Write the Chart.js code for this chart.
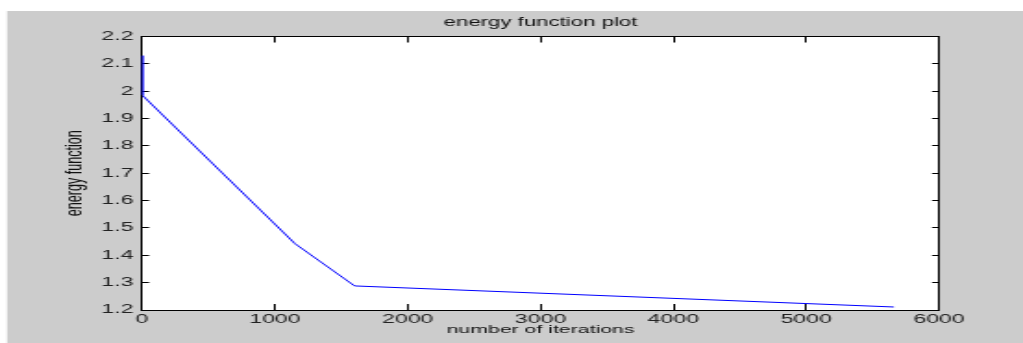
<!DOCTYPE html>
<html lang="en">
<head>
    <meta charset="UTF-8">
    <title>energy function plot</title>
    <script src="https://cdn.jsdelivr.net/npm/chart.js"></script>
    <style>
        body { margin: 0; background: #fff; }
        /* the figure is drawn narrow and stretched sideways, like the reference */
        #plot { width: 1023px !important; height: 343px !important; display: block; }
    </style>
</head>
<body>
    <canvas id="plot" width="553" height="343" style="width:1023px;height:343px"></canvas>
    <script>
        // data
        const iterations = [0, 0, 1150, 1600, 5660];
        const energy = [2.13, 1.986, 1.443, 1.288, 1.211];
        const xTicks = [0, 1000, 2000, 3000, 4000, 5000, 6000];
        const yTicks = [1.2, 1.3, 1.4, 1.5, 1.6, 1.7, 1.8, 1.9, 2.0, 2.1, 2.2];

        const STRETCH = 1023 / 553;
        const FONT = 'Liberation Sans, Arial, Helvetica, sans-serif';

        // gray figure background and white axes box
        const figureBg = {
            id: 'figureBg',
            beforeDraw(chart) {
                const { ctx, chartArea: a } = chart;
                ctx.save();
                ctx.fillStyle = '#cccccc';
                ctx.fillRect(7 / STRETCH, 11, chart.width, chart.height);
                ctx.fillStyle = '#ffffff';
                ctx.fillRect(a.left, a.top, a.right - a.left, a.bottom - a.top);
                ctx.restore();
            }
        };

        const points = iterations.map((x, i) => ({ x: x, y: energy[i] }));

        const fixTicks = (list) => (scale) => {
            scale.ticks = list.map(v => ({ value: v }));
        };

        const edge = (extra) => Object.assign({
            type: 'linear',
            border: { display: true, color: '#000', width: 1 },
            grid: { drawOnChartArea: false, drawTicks: true, color: '#000' }
        }, extra);

        const config = {
            type: 'line',
            data: {
                datasets: [{
                    data: points,
                    borderColor: '#0000ff',
                    borderWidth: 1,
                    pointRadius: 0,
                    tension: 0,
                    fill: false
                }]
            },
            options: {
                responsive: false,
                devicePixelRatio: 1,
                animation: false,
                layout: { padding: 0 },
                plugins: { legend: { display: false }, tooltip: { enabled: false }, title: { display: false } },
                scales: {
                    x: edge({
                        position: 'bottom',
                        min: 0, max: 6000,
                        afterBuildTicks: fixTicks(xTicks),
                        afterFit: (s) => { s.height = 33; },
                        grid: { drawOnChartArea: false, color: '#000', tickLength: -6 },
                        ticks: {
                            color: '#222', padding: 8, maxRotation: 0, autoSkip: false,
                            font: { family: FONT, size: 12.5 },
                            callback: (v) => String(v)
                        },
                        title: {
                            display: true, text: 'number of iterations', color: '#111',
                            font: { family: FONT, size: 11.5 },
                            padding: { top: 0, bottom: 6.3 }
                        }
                    }),
                    x2: edge({
                        position: 'top',
                        min: 0, max: 6000,
                        afterBuildTicks: fixTicks(xTicks),
                        afterFit: (s) => { s.height = 36.5; },
                        grid: { drawOnChartArea: false, color: '#000', tickLength: -6 },
                        ticks: { display: false },
                        title: {
                            display: true, text: 'energy function plot', color: '#111',
                            font: { family: FONT, size: 12 },
                            padding: { top: 15.6, bottom: 0 }
                        }
                    }),
                    y: edge({
                        position: 'left',
                        min: 1.2, max: 2.2,
                        afterBuildTicks: fixTicks(yTicks),
                        afterFit: (s) => { s.width = 76.8; },
                        grid: { drawOnChartArea: false, color: '#000', tickLength: -3.8 },
                        ticks: {
                            color: '#222', padding: 8.4, autoSkip: false,
                            font: { family: FONT, size: 12.5 },
                            callback: (v) => String(Number(v.toFixed(1)))
                        },
                        title: {
                            display: true, text: 'energy function', color: '#111',
                            font: { family: FONT, size: 12.6 },
                            padding: { top: 33.4, bottom: 0 }
                        }
                    }),
                    y2: edge({
                        position: 'right',
                        min: 1.2, max: 2.2,
                        afterBuildTicks: fixTicks(yTicks),
                        afterFit: (s) => { s.width = 45.4; },
                        grid: { drawOnChartArea: false, color: '#000', tickLength: -3.8 },
                        ticks: { display: false }
                    })
                }
            },
            plugins: [figureBg]
        };

        new Chart(document.getElementById('plot'), config);
    </script>
</body>
</html>
